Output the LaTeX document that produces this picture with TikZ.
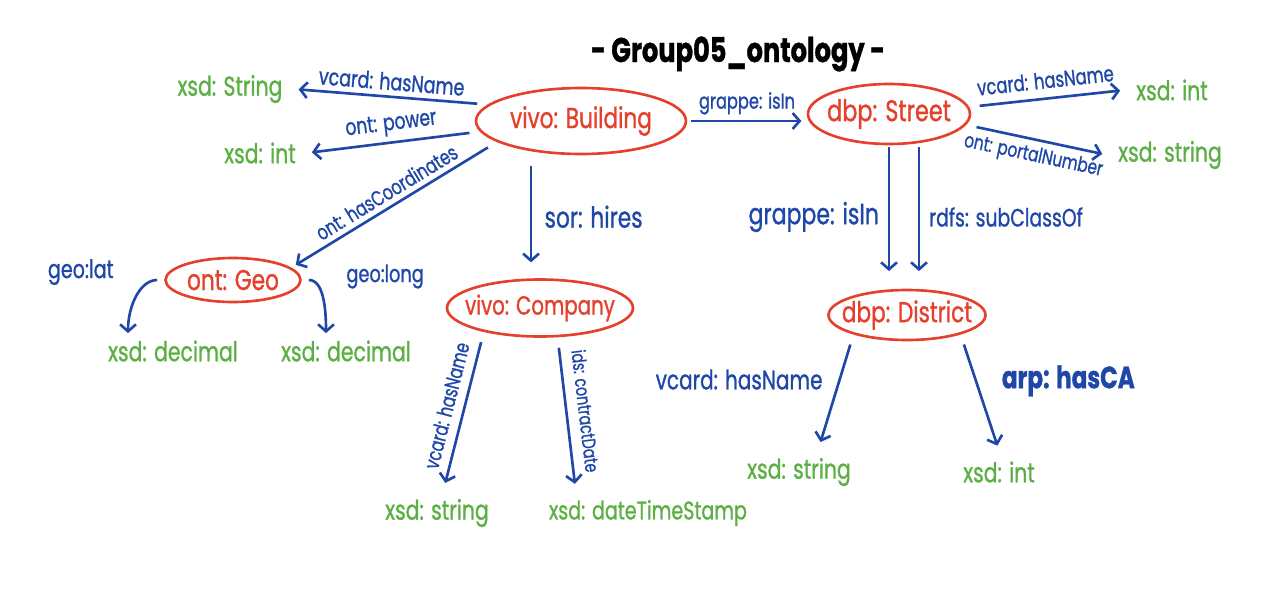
\documentclass[tikz,border=0pt]{standalone}
\usepackage{fontspec}
\setsansfont[FakeStretch=0.75,FakeBold=1]{Poppins}
\usetikzlibrary{arrows.meta,positioning,shapes.geometric}
\definecolor{cls}{HTML}{E4402C}
\definecolor{rel}{HTML}{1E47A8}
\definecolor{lit}{HTML}{5CAF44}

\begin{document}
\begin{tikzpicture}[x=0.02cm,y=-0.02cm,
  font=\sffamily\fontsize{12.5}{14}\selectfont,
  class/.style={ellipse,draw=cls,text=cls,line width=1.5pt,inner ysep=0pt,inner xsep=-8pt,
    font=\sffamily\fontsize{16.4}{18}\selectfont},
  literal/.style={text=lit,inner sep=6pt,font=\sffamily\fontsize{15.5}{17}\selectfont},
  prop/.style={-{Straight Barb[length=4pt,width=9pt]},line width=1.5pt,draw=rel,
    shorten <=6pt,shorten >=3pt},
  plabel/.style={text=rel,inner sep=3pt}
]
\useasboundingbox (0,0) rectangle (1280,609);
\node[font=\sffamily\bfseries\fontsize{19.5}{22}\selectfont] (title) at (738,54) {- Group05\_ontology -};
% classes
\node[class,minimum width=4.2cm,minimum height=1.32cm] (bld) at (581,121) {vivo: Building};
\node[class,minimum width=3.24cm,minimum height=1.2cm,font=\sffamily\fontsize{17}{19}\selectfont] (st) at (889,114) {dbp: Street};
\node[class,minimum width=2.7cm,minimum height=0.88cm] (geo) at (233,280) {ont: Geo};
\node[class,minimum width=3.72cm,minimum height=1.14cm,font=\sffamily\fontsize{15}{17}\selectfont] (cmp) at (540,308) {vivo: Company};
\node[class,minimum width=3.14cm,minimum height=1cm] (dst) at (907,315) {dbp: District};
% literals
\node[literal] (strA) at (230,89) {xsd: String};
\node[literal] (intA) at (260,153) {xsd: int};
\node[literal] (decA) at (173,351) {xsd: decimal};
\node[literal] (decB) at (346,351) {xsd: decimal};
\node[literal] (strC) at (437,513) {xsd: string};
\node[literal,font=\sffamily\fontsize{14.5}{16}\selectfont] (dts) at (648,513) {xsd: dateTimeStamp};
\node[literal] (intB) at (1172,90) {xsd: int};
\node[literal] (strB) at (1170,155) {xsd: string};
\node[literal] (strD) at (799,472) {xsd: string};
\node[literal] (intD) at (999,472) {xsd: int};
% properties of the building
\draw[prop] (bld.170) -- (strA.east)
  node[midway,sloped,above,plabel,font=\sffamily\fontsize{13.3}{15}\selectfont] {vcard: hasName};
\draw[prop] (bld.186) -- (intA.east)
  node[midway,sloped,above,plabel,font=\sffamily\fontsize{13}{15}\selectfont] {ont: power};
\draw[prop] (bld.194) -- (geo.12)
  node[midway,sloped,above,plabel,font=\sffamily\fontsize{12}{14}\selectfont] {ont: hasCoordinates};
\draw[prop,shorten >=9pt] ([xshift=-1cm]bld.south) -- ([xshift=-1cm]bld.south |- cmp.north)
  node[midway,right=4pt,plabel,font=\sffamily\fontsize{16.5}{18}\selectfont] {sor: hires};
\draw[prop,shorten <=2pt] (bld.east) -- (bld.east -| st.west)
  node[midway,above,plabel,font=\sffamily\fontsize{12.3}{14}\selectfont] {grappe: isIn};
% street
\draw[prop] (st.5) -- (intB.west) node[midway,sloped,above=2pt,plabel] {vcard: hasName};
\draw[prop] (st.352) -- (strB.west)
  node[midway,sloped,below,plabel,font=\sffamily\fontsize{11.6}{13}\selectfont] {ont: portalNumber};
\draw[prop,shorten <=1pt,shorten >=10pt] (st.south) -- (st.south |- dst.north)
  node[midway,left=2pt,plabel,font=\sffamily\fontsize{16.7}{18}\selectfont] {grappe: isIn};
\draw[prop,shorten <=1pt,shorten >=10pt] ([xshift=.6cm]st.south) -- ([xshift=.6cm]st.south |- dst.north)
  node[midway,right=2pt,plabel,font=\sffamily\fontsize{14.3}{16}\selectfont] {rdfs: subClassOf};
% geo
\draw[prop,shorten <=4pt,shorten >=-2pt] (geo.west) to[out=180,in=90] ([xshift=-.9cm]decA.north);
\draw[prop,shorten <=4pt,shorten >=-2pt] (geo.east) to[out=0,in=90] ([xshift=-.4cm]decB.north);
\node[plabel,left=0.9cm of geo.west,yshift=4.5pt,font=\sffamily\fontsize{14.5}{16}\selectfont] (latlbl) {geo:lat};
\node[plabel,right=0.78cm of geo.east,yshift=2pt,font=\sffamily\fontsize{13.5}{15}\selectfont] (longlbl) {geo:long};
% company
\draw[prop] (cmp.203) -- ([xshift=.14cm]strC.north)
  node[midway,sloped,above=2pt,plabel,font=\sffamily\fontsize{11.8}{13}\selectfont] {vcard: hasName};
\draw[prop] (cmp.301) -- ([xshift=-1.45cm]dts.north)
  node[midway,sloped,above=3pt,plabel,font=\sffamily\fontsize{10.8}{12}\selectfont] {ids: contractDate};
% district
\draw[prop] (dst.200) -- ([xshift=.4cm]strD.north)
  node[pos=.4,left=6pt,plabel,font=\sffamily\fontsize{15.2}{17}\selectfont] {vcard: hasName};
\draw[prop] (dst.340) -- (intD.north)
  node[pos=.4,right=11pt,plabel,font=\sffamily\bfseries\fontsize{17.5}{19}\selectfont] {arp: hasCA};
\end{tikzpicture}
\end{document}
